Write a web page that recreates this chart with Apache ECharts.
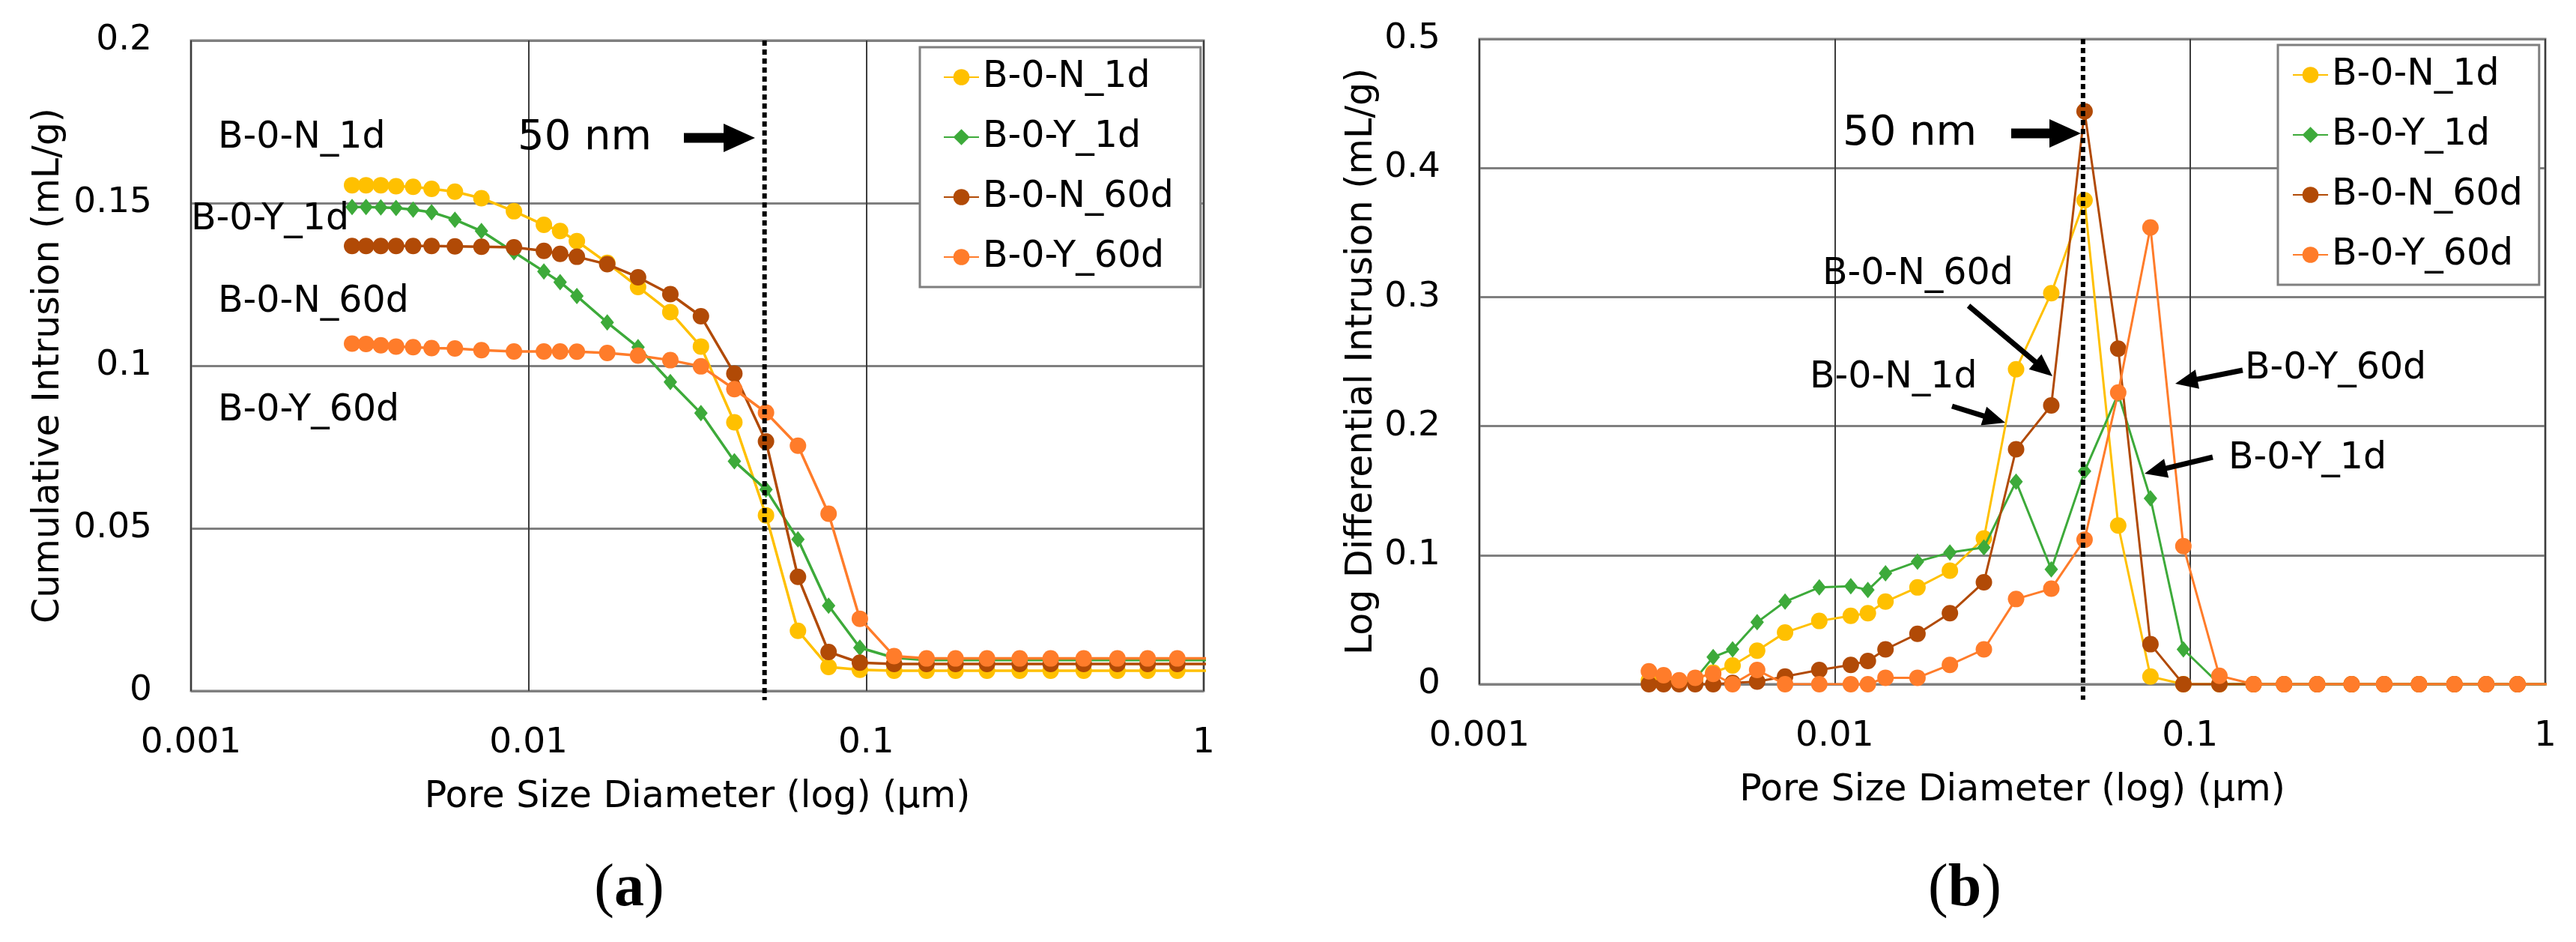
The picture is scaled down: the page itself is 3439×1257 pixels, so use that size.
<!DOCTYPE html>
<html><head><meta charset="utf-8">
<script src="https://cdn.jsdelivr.net/npm/echarts@6/dist/echarts.min.js"></script>
<style>html,body{margin:0;padding:0;background:#fff}#c{width:3439px;height:1257px}</style>
</head><body><div id="c"></div>
<script>
// ---------------- DATA ----------------
const seriesNames = ['B-0-N_1d', 'B-0-Y_1d', 'B-0-N_60d', 'B-0-Y_60d'];
// pore size diameter (μm) of each measured point (shared by all samples)
const poreSize = [0.00300, 0.00330, 0.00365, 0.00405, 0.00455, 0.00516, 0.00605, 0.00725, 0.00905,
  0.0111, 0.0124, 0.0139, 0.0171, 0.0211, 0.0263, 0.0324, 0.0407, 0.0505, 0.0628, 0.0774, 0.0958,
  0.121, 0.151, 0.184, 0.228, 0.285, 0.352, 0.441, 0.555, 0.682, 0.835];
// measurements continue beyond the 1 μm axis end (line runs to the frame)
const poreSizeBeyond = 1.2;

// (a) cumulative intrusion (mL/g)
const cumN1d = [0.1555, 0.1555, 0.1555, 0.1552, 0.1550, 0.1544, 0.1535, 0.1515, 0.1475,
  0.1433, 0.1414, 0.1383, 0.1316, 0.1242, 0.1165, 0.1059, 0.0826, 0.0540, 0.0185, 0.0074, 0.0065,
  0.0062, 0.0062, 0.0062, 0.0062, 0.0062, 0.0062, 0.0062, 0.0062, 0.0062, 0.0062];
const cumY1d = [0.1488, 0.1488, 0.1487, 0.1485, 0.1480, 0.1472, 0.1449, 0.1414, 0.1349,
  0.1290, 0.1257, 0.1214, 0.1133, 0.1057, 0.0950, 0.0854, 0.0706, 0.0619, 0.0466, 0.0262, 0.0133,
  0.0102, 0.0095, 0.0095, 0.0095, 0.0095, 0.0095, 0.0095, 0.0095, 0.0095, 0.0095];
const cumN60d = [0.1368, 0.1368, 0.1368, 0.1368, 0.1368, 0.1368, 0.1367, 0.1366, 0.1364,
  0.1353, 0.1344, 0.1335, 0.1312, 0.1272, 0.1220, 0.1152, 0.0976, 0.0767, 0.0351, 0.0120, 0.0087,
  0.0083, 0.0083, 0.0083, 0.0083, 0.0083, 0.0083, 0.0083, 0.0083, 0.0083, 0.0083];
const cumY60d = [0.1068, 0.1067, 0.1063, 0.1059, 0.1057, 0.1054, 0.1053, 0.1048, 0.1044,
  0.1044, 0.1044, 0.1043, 0.1039, 0.1031, 0.1017, 0.0998, 0.0928, 0.0856, 0.0754, 0.0545, 0.0222,
  0.0107, 0.0100, 0.0100, 0.0100, 0.0100, 0.0100, 0.0100, 0.0100, 0.0100, 0.0100];

// (b) log differential intrusion (mL/g)
const difN1d = [0.003, 0.002, 0.002, 0.004, 0.009, 0.0145, 0.026, 0.040, 0.049,
  0.053, 0.055, 0.064, 0.075, 0.088, 0.113, 0.244, 0.303, 0.375, 0.123, 0.006, 0,
  0, 0, 0, 0, 0, 0, 0, 0, 0, 0];
const difY1d = [0, 0.001, 0.002, 0.004, 0.021, 0.027, 0.048, 0.064, 0.075,
  0.076, 0.073, 0.086, 0.095, 0.102, 0.106, 0.157, 0.089, 0.165, 0.225, 0.144, 0.027,
  0, 0, 0, 0, 0, 0, 0, 0, 0, 0];
const difN60d = [0, 0, 0, 0, 0, 0.001, 0.002, 0.006, 0.011,
  0.015, 0.018, 0.027, 0.039, 0.055, 0.079, 0.182, 0.216, 0.444, 0.260, 0.031, 0,
  0, 0, 0, 0, 0, 0, 0, 0, 0, 0];
const difY60d = [0.010, 0.007, 0.003, 0.005, 0.008, 0, 0.011, 0, 0,
  0, 0, 0.005, 0.005, 0.015, 0.027, 0.066, 0.074, 0.112, 0.226, 0.354, 0.107,
  0.0065, 0, 0, 0, 0, 0, 0, 0, 0, 0];

const xTickLabels = ['0.001', '0.01', '0.1', '1'];
const markerSize50nm = 0.05; // μm
const cumAxis = { min: 0, max: 0.2, interval: 0.05 };
const difAxis = { min: 0, max: 0.5, interval: 0.1 };

// ---------------- STYLE ----------------
const colors = ['#FFC000', '#3DAA3A', '#B14A06', '#FF7C2A'];
const FONT = '"DejaVu Sans", Verdana, sans-serif';
const chart = echarts.init(document.getElementById('c'));

function lineSeries(name, vals, g, i) {
  const col = colors[i];
  const pts = poreSize.map((x, k) => [x, vals[k]]);
  pts.push([poreSizeBeyond, vals[vals.length - 1]]);
  return {
    type: 'line', name, xAxisIndex: g, yAxisIndex: g, data: pts,
    symbol: i === 1 ? 'diamond' : 'circle',
    symbolSize: i === 1 ? [18, 22] : 22,
    lineStyle: { width: g === 0 ? 3.5 : 3, color: col },
    itemStyle: { color: col },
    clip: true, z: 3 + i, animation: false
  };
}
function dotted(g, top, below) {
  return {
    type: 'line', name: '50nm', xAxisIndex: g, yAxisIndex: g,
    data: [[markerSize50nm, top], [markerSize50nm, below]],
    clip: false, symbol: 'none', silent: true, z: 20,
    lineStyle: { color: '#000', width: 6, type: [7, 5] }
  };
}
function xAx(g) {
  return {
    type: 'log', logBase: 10, min: 0.001, max: 1, gridIndex: g,
    axisLine: { show: false }, axisTick: { show: false },
    splitLine: { show: true, lineStyle: { color: '#3c3c3c', width: 2 } },
    axisLabel: { fontSize: 47, color: '#000', fontFamily: FONT, margin: 46,
      formatter: v => xTickLabels[Math.round(Math.log10(v)) + 3] },
    name: 'Pore Size Diameter (log) (μm)', nameLocation: 'middle', nameGap: 118,
    nameTextStyle: { fontSize: 49, color: '#000', fontFamily: FONT }
  };
}
function yAx(g, ax, name, gap) {
  return {
    type: 'value', gridIndex: g, min: ax.min, max: ax.max, interval: ax.interval,
    axisLine: { show: false }, axisTick: { show: false },
    splitLine: { show: true, lineStyle: { color: '#7f7f7f', width: 3 } },
    axisLabel: { fontSize: 47, color: '#000', fontFamily: FONT, margin: 52 },
    name, nameLocation: 'middle', nameGap: gap, nameRotate: 90,
    nameTextStyle: { fontSize: 49, color: '#000', fontFamily: FONT }
  };
}
function legend(left, top, padding) {
  return {
    data: seriesNames, orient: 'vertical', left, top, padding,
    itemWidth: 47, itemHeight: 27, itemGap: 30,
    borderColor: '#7f7f7f', borderWidth: 3, backgroundColor: '#fff',
    textStyle: { fontSize: 49, lineHeight: 50, color: '#000', fontFamily: FONT },
    selectedMode: false, z: 30
  };
}

const cums = [cumN1d, cumY1d, cumN60d, cumY60d];
const difs = [difN1d, difY1d, difN60d, difY60d];

const series = [];
cums.forEach((v, i) => series.push(lineSeries(seriesNames[i], v, 0, i)));
difs.forEach((v, i) => series.push(lineSeries(seriesNames[i], v, 1, i)));
series.push(dotted(0, 0.2, -0.0028));
series.push(dotted(1, 0.5, -0.012));

// annotation helpers (pixel positions of decorations)
function arrow(x1, y1, x2, y2, sw, hl, hw) {
  const dx = x2 - x1, dy = y2 - y1, L = Math.hypot(dx, dy);
  const ux = dx / L, uy = dy / L, px = -uy, py = ux;
  const bx = x2 - ux * hl, by = y2 - uy * hl;
  return { type: 'polygon', z: 40, silent: true,
    shape: { points: [
      [x1 + px * sw / 2, y1 + py * sw / 2], [bx + px * sw / 2, by + py * sw / 2],
      [bx + px * hw / 2, by + py * hw / 2], [x2, y2],
      [bx - px * hw / 2, by - py * hw / 2], [bx - px * sw / 2, by - py * sw / 2],
      [x1 - px * sw / 2, y1 - py * sw / 2]] },
    style: { fill: '#000' } };
}
function label(text, x, y, size) {
  return { type: 'text', z: 40, silent: true,
    style: { text, x, y, fontSize: size || 49, fontFamily: FONT, fill: '#000', align: 'left', verticalAlign: 'middle' } };
}
function caption(letter, x, y) {
  return { type: 'text', z: 40, silent: true,
    style: { text: '{p|(}{b|' + letter + '}{p|)}', x, y, align: 'center', verticalAlign: 'middle',
      rich: { p: { fontFamily: '"Liberation Serif", serif', fontSize: 80, fill: '#000' },
              b: { fontFamily: '"Liberation Serif", serif', fontSize: 80, fontWeight: 'bold', fill: '#000' } } } };
}

const graphics = [
  label('B-0-N_1d', 291, 184), label('B-0-Y_1d', 255, 293), label('B-0-N_60d', 291, 403), label('B-0-Y_60d', 291, 548),
  label('50 nm', 691, 184, 56), arrow(913, 184, 1008, 184, 13, 42, 38),
  label('50 nm', 2460, 178, 56), arrow(2685, 178, 2778, 178, 13, 42, 38),
  label('B-0-N_60d', 2433, 366), arrow(2628, 408, 2740, 502, 7, 30, 26),
  label('B-0-N_1d', 2416, 504), arrow(2606, 542, 2677, 564, 7, 30, 26),
  label('B-0-Y_60d', 2997, 492), arrow(2994, 494, 2904, 512, 7, 30, 26),
  label('B-0-Y_1d', 2975, 612), arrow(2954, 610, 2863, 632, 7, 30, 26),
  caption('a', 840, 1187), caption('b', 2623, 1187)
];

chart.setOption({
  animation: false,
  backgroundColor: '#fff',
  grid: [
    { left: 255, top: 54, width: 1352, height: 868, show: true, borderColor: '#7f7f7f', borderWidth: 3 },
    { left: 1975, top: 52, width: 1423, height: 861, show: true, borderColor: '#7f7f7f', borderWidth: 3 }
  ],
  xAxis: [xAx(0), xAx(1)],
  yAxis: [yAx(0, cumAxis, 'Cumulative Intrusion (mL/g)', 165), yAx(1, difAxis, 'Log Differential Intrusion (mL/g)', 132)],
  legend: [legend(1228, 63, [15, 36, 15, 31]), legend(3041, 60, [15, 22, 15, 19])],
  series,
  graphic: graphics
});
</script></body></html>
